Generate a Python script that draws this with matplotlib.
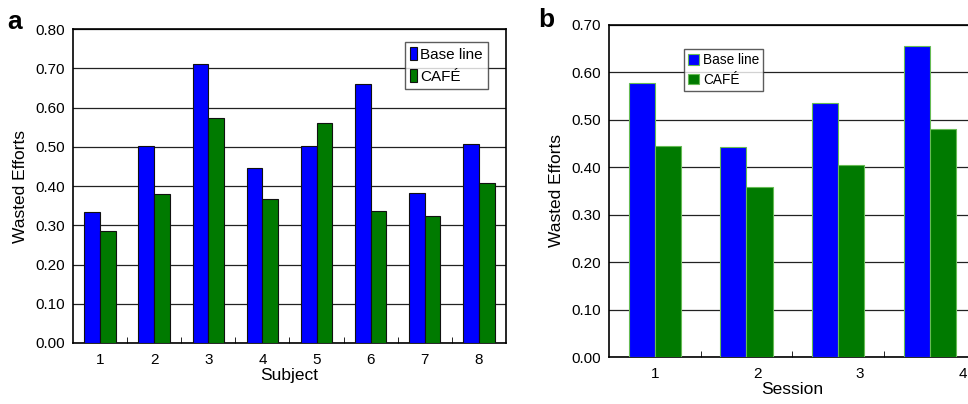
import matplotlib.pyplot as plt
import numpy as np

plt.rcParams['font.family'] = ['Liberation Sans', 'DejaVu Sans']

subjects = ['1', '2', '3', '4', '5', '6', '7', '8']
subj_base = [0.333, 0.501, 0.711, 0.445, 0.501, 0.659, 0.382, 0.507]
subj_cafe = [0.286, 0.380, 0.573, 0.367, 0.560, 0.336, 0.323, 0.408]

sessions = ['1', '2', '3', '4']
sess_base = [0.577, 0.442, 0.535, 0.654]
sess_cafe = [0.444, 0.358, 0.404, 0.479]

yticks_a = [0.0, 0.1, 0.2, 0.3, 0.4, 0.5, 0.6, 0.7, 0.8]
yticks_b = [0.0, 0.1, 0.2, 0.3, 0.4, 0.5, 0.6, 0.7]

BLUE = '#0000ff'
GREEN = '#007a00'


def draw_panel(ax, cats, base, cafe, yticks, xlabel, edge, w, label_step=1.0):
    x = np.arange(len(cats))
    ax.bar(x - w / 2, base, w, color=BLUE, edgecolor=edge, linewidth=0.8,
           label='Base line', zorder=3)
    ax.bar(x + w / 2, cafe, w, color=GREEN, edgecolor=edge, linewidth=0.8,
           label='CAFÉ', zorder=3)
    ax.set_xlim(-0.5, len(cats) - 0.5)
    ax.set_ylim(yticks[0], yticks[-1])
    ax.set_yticks(yticks)
    ax.set_yticklabels(['%.2f' % t for t in yticks], fontsize=11)
    # category labels sit slightly off the group centres in the original
    ax.set_xticks(x * label_step)
    ax.set_xticklabels(cats, fontsize=11)
    ax.set_xticks(np.arange(len(cats) - 1) + 0.5, minor=True)
    ax.tick_params(axis='x', which='major', length=0, pad=7)
    ax.tick_params(axis='x', which='minor', length=4, direction='in')
    ax.tick_params(axis='y', length=0, pad=6)
    ax.yaxis.grid(True, color='#222222', linewidth=0.9, zorder=0)
    ax.set_axisbelow(True)
    for s in ax.spines.values():
        s.set_linewidth(1.2)
    ax.set_xlabel(xlabel, fontsize=12.5, labelpad=1)
    ax.set_ylabel('Wasted Efforts', fontsize=12.5, labelpad=5)


fig = plt.figure(figsize=(9.68, 4.04), dpi=100)

ax1 = fig.add_axes([0.0754, 0.151, 0.4473, 0.777])
draw_panel(ax1, subjects, subj_base, subj_cafe, yticks_a, 'Subject', '#111111', 0.29)
leg1 = ax1.legend(loc='upper right', bbox_to_anchor=(0.958, 0.96), fontsize=11,
                  frameon=True, fancybox=False, handlelength=0.45, handleheight=0.9,
                  handletextpad=0.2, borderpad=0.35, labelspacing=0.5,
                  borderaxespad=0)
leg1.get_frame().set_edgecolor('#333333')
leg1.get_frame().set_linewidth(1.0)

ax2 = fig.add_axes([0.629, 0.1163, 0.379, 0.823])
draw_panel(ax2, sessions, sess_base, sess_cafe, yticks_b, 'Session', '#66bb55', 0.285,
           label_step=1.12)
ax2.spines['right'].set_visible(False)
leg2 = ax2.legend(loc='upper left', bbox_to_anchor=(0.205, 0.926), fontsize=9.8,
                  frameon=True, fancybox=False, handlelength=0.8, handleheight=0.8,
                  handletextpad=0.3, borderpad=0.3, labelspacing=0.4,
                  borderaxespad=0)
leg2.get_frame().set_edgecolor('#333333')
leg2.get_frame().set_linewidth(1.0)

fig.text(0.008, 0.945, 'a', fontsize=19, fontweight='bold', va='center')
fig.text(0.556, 0.95, 'b', fontsize=19, fontweight='bold', va='center')

fig.savefig('out.png', dpi=100)
